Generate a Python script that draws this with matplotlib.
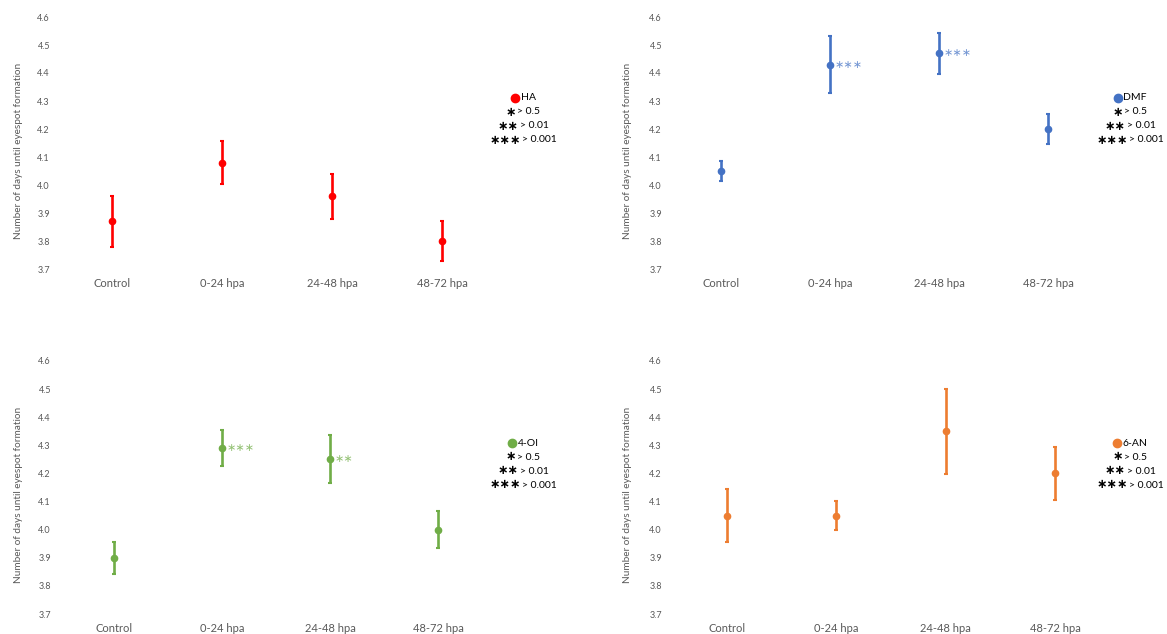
import matplotlib
matplotlib.use("Agg")
import matplotlib.pyplot as plt

plt.rcParams['font.family'] = ['Lato', 'DejaVu Sans']

# ---------------- data ----------------
categories = ["Control", "0-24 hpa", "24-48 hpa", "48-72 hpa"]

ha_mean = [3.87, 4.08, 3.96, 3.80]
ha_err = [0.090, 0.077, 0.080, 0.073]
ha_stars = ["", "", "", ""]

dmf_mean = [4.05, 4.43, 4.47, 4.20]
dmf_err = [0.037, 0.103, 0.074, 0.054]
dmf_stars = ["", "***", "***", ""]

oi_mean = [3.90, 4.29, 4.25, 4.00]
oi_err = [0.057, 0.063, 0.085, 0.065]
oi_stars = ["", "***", "**", ""]

an_mean = [4.05, 4.05, 4.35, 4.20]
an_err = [0.094, 0.051, 0.152, 0.093]
an_stars = ["", "", "", ""]

series_names = ["HA", "DMF", "4-OI", "6-AN"]
legend_stars = ["*", "**", "***"]
legend_labels = ["> 0.5", "> 0.01", "> 0.001"]
y_ticks = [3.7, 3.8, 3.9, 4.0, 4.1, 4.2, 4.3, 4.4, 4.5, 4.6]
y_label = "Number of days until eyespot formation"

# ---------------- layout ----------------
W, H = 1167, 634
fig = plt.figure(figsize=(W / 100, H / 100), dpi=100)

panels = [
    dict(name=series_names[0], mean=ha_mean, err=ha_err, stars=ha_stars, color="#FF0000",
         left=57, width=440, top=17, bottom=269, ylx=18, tlr=50, lcx=523, lty=98),
    dict(name=series_names[1], mean=dmf_mean, err=dmf_err, stars=dmf_stars, color="#4472C4",
         left=666, width=437, top=17, bottom=269, ylx=627, tlr=662, lcx=1130, lty=98),
    dict(name=series_names[2], mean=oi_mean, err=oi_err, stars=oi_stars, color="#70AD47",
         left=60, width=432, top=361, bottom=614, ylx=18, tlr=51, lcx=523, lty=443),
    dict(name=series_names[3], mean=an_mean, err=an_err, stars=an_stars, color="#ED7D31",
         left=672, width=438, top=361, bottom=614, ylx=627, tlr=662, lcx=1130, lty=443),
]

GREY = "#595959"
STAR_FONT = dict(family="DejaVu Sans", fontweight="bold")

def star_text(s):
    return s.replace("*", "\u2217")

legend_items = []

for p in panels:
    ax = fig.add_axes([p["left"] / W, 1 - p["bottom"] / H,
                       p["width"] / W, (p["bottom"] - p["top"]) / H])
    x = list(range(len(categories)))
    ax.errorbar(x, p["mean"], yerr=p["err"], fmt="o", color=p["color"],
                ms=4.5, elinewidth=1.9, capsize=1.2, capthick=1.5, clip_on=False)
    for xi, yi, s in zip(x, p["mean"], p["stars"]):
        if s:
            ax.annotate(star_text(s), (xi, yi), xytext=(3.5, 0), textcoords="offset points",
                        va="center", ha="left", color=p["color"], alpha=0.75,
                        fontsize=8, family="DejaVu Sans")
    ax.set_xlim(-0.5, 3.5)
    ax.set_ylim(3.7, 4.6)
    ax.set_yticks(y_ticks)
    ax.set_yticklabels([f"{t:.1f}" for t in y_ticks])
    ax.set_xticks(x)
    ax.set_xticklabels(categories)
    for sp in ax.spines.values():
        sp.set_visible(False)
    ypad = (p["left"] - p["tlr"]) * 72 / 100
    ax.tick_params(axis="y", length=0, pad=ypad, labelsize=6.5, labelcolor=GREY)
    ax.tick_params(axis="x", length=0, pad=6.5, labelsize=8, labelcolor=GREY)
    ax.set_ylabel(y_label, fontsize=7.2, color=GREY)
    ax.yaxis.set_label_coords((p["ylx"] + 5 - p["left"]) / p["width"], 0.47)
    ax.set_facecolor("none")

    items = []
    t = fig.text(0, 0, p["name"], fontsize=7.5, color="black", va="center", ha="left")
    items.append(("dot", t))
    for s, lab in zip(legend_stars, legend_labels):
        ts = fig.text(0, 0, star_text(s), fontsize=9, color="black", va="center", ha="left", **STAR_FONT)
        tl = fig.text(0, 0, lab, fontsize=7.5, color="black", va="center", ha="left")
        items.append((ts, tl))
    legend_items.append((p, items))

renderer = fig.canvas.get_renderer()
dot_w = 9
gap = 1.0
for p, items in legend_items:
    for i, (a, b) in enumerate(items):
        y = p["lty"] + 14 * i
        yf = 1 - y / H
        wb = b.get_window_extent(renderer).width
        wa = dot_w if a == "dot" else a.get_window_extent(renderer).width
        total = wa + gap + wb
        x0 = p["lcx"] - total / 2
        if a == "dot":
            fig.add_artist(plt.Line2D([(x0 + dot_w / 2) / W], [yf], marker="o", ms=6,
                                      color=p["color"], linestyle="none",
                                      transform=fig.transFigure))
        else:
            a.set_position((x0 / W, yf))
        b.set_position(((x0 + wa + gap) / W, yf))

fig.savefig("out.png", dpi=100, facecolor="white")
